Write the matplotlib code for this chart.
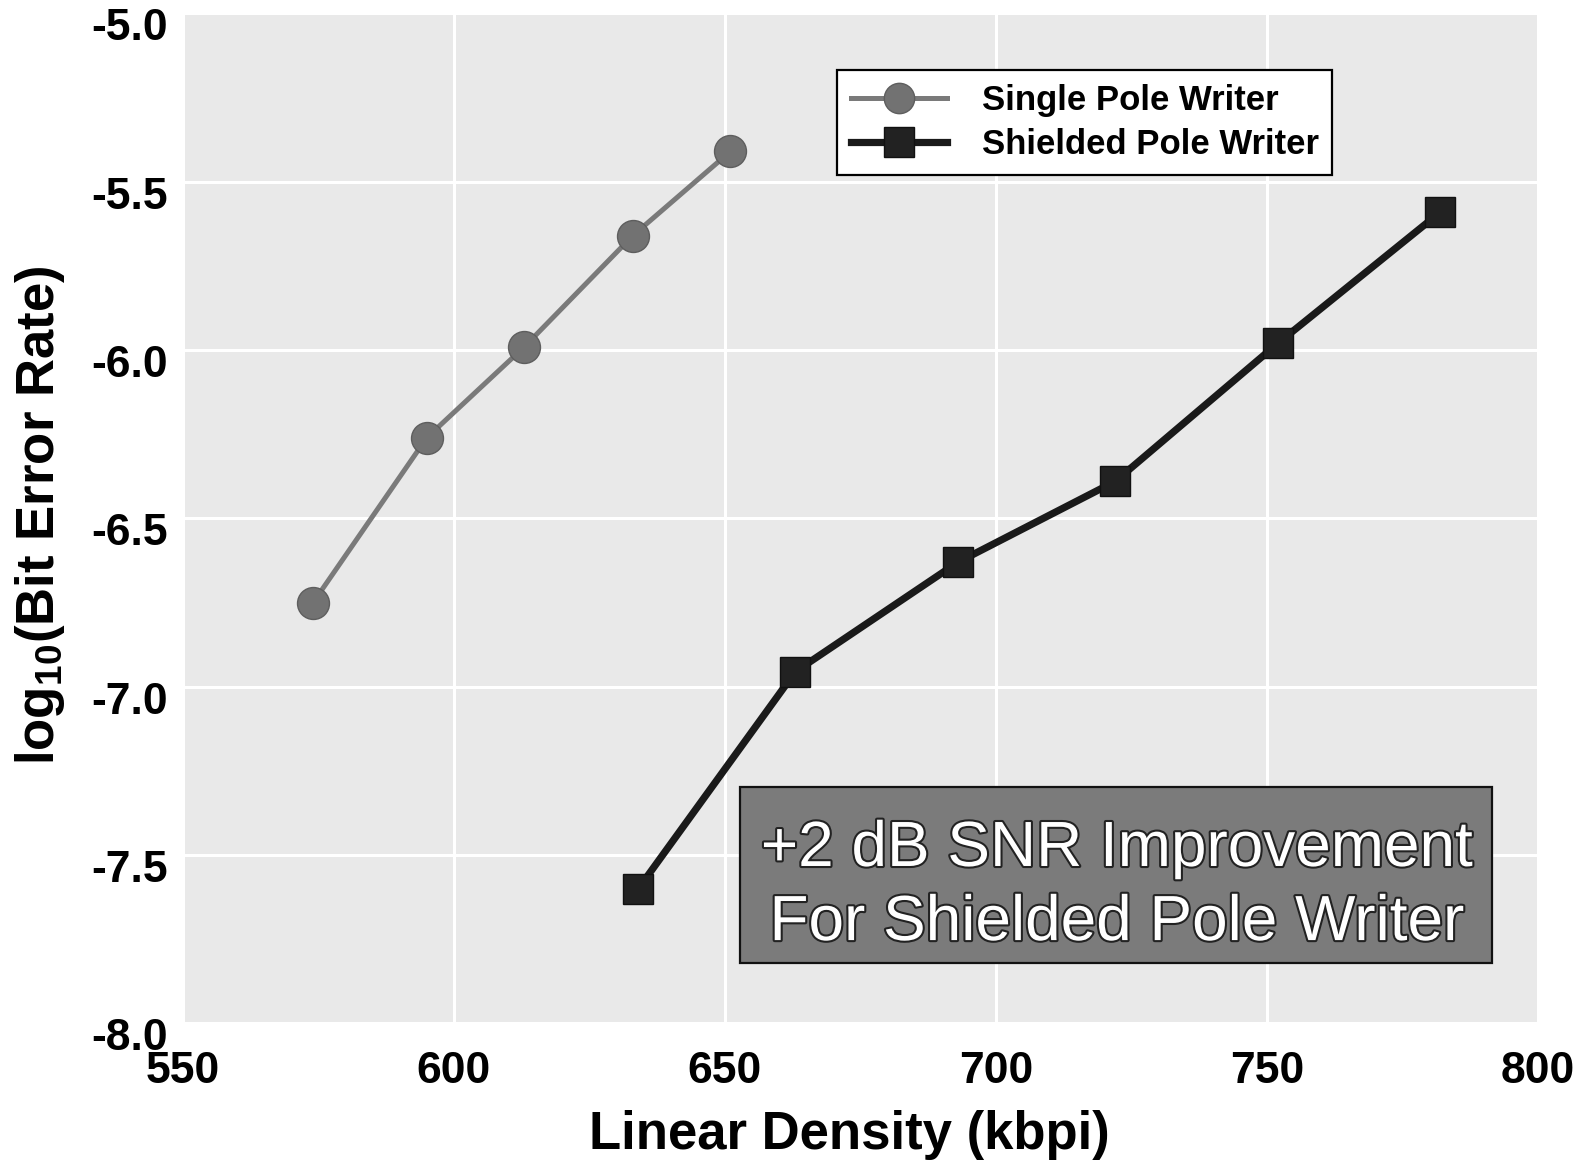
import matplotlib
matplotlib.use('Agg')
import matplotlib.pyplot as plt
import matplotlib.patheffects as pe
from matplotlib.patches import Rectangle
from matplotlib.transforms import ScaledTranslation

single_x = [574, 595, 613, 633, 651]
single_y = [-6.75, -6.26, -5.99, -5.66, -5.41]
shielded_x = [634, 663, 693, 722, 752, 782]
shielded_y = [-7.60, -6.955, -6.63, -6.39, -5.98, -5.59]

series_names = ['Single Pole Writer', 'Shielded Pole Writer']
x_ticks = [550, 600, 650, 700, 750, 800]
y_ticks = [-8.0, -7.5, -7.0, -6.5, -6.0, -5.5, -5.0]
note = '+2 dB SNR Improvement\nFor Shielded Pole Writer'

plt.rcParams['font.family'] = ['Liberation Sans', 'DejaVu Sans']
plt.rcParams['mathtext.fontset'] = 'custom'
plt.rcParams['mathtext.rm'] = 'Liberation Sans:bold'
plt.rcParams['mathtext.bf'] = 'Liberation Sans:bold'
plt.rcParams['mathtext.default'] = 'bf'

W, H = 1576, 1170
fig = plt.figure(figsize=(W / 100, H / 100), dpi=100, facecolor='white')

# plot area in pixels: left 183, right 1538, top 13, bottom 1023
left, right, top, bottom = 183, 1538, 13.4, 1023.4
ax = fig.add_axes([left / W, 1 - bottom / H, (right - left) / W, (bottom - top) / H])
ax.set_facecolor('#e9e9e9')
for s in ax.spines.values():
    s.set_visible(False)

ax.set_xlim(550, 800)
ax.set_ylim(-8.0, -5.0)
ax.set_xticks(x_ticks)
ax.set_yticks(y_ticks)
ax.set_xticklabels([str(v) for v in x_ticks])
ax.set_yticklabels(['%.1f' % v for v in y_ticks])
ax.tick_params(length=0, labelsize=32)
ax.tick_params(axis='x', pad=20)
ax.tick_params(axis='y', pad=11)
for lab in ax.get_xticklabels() + ax.get_yticklabels():
    lab.set_fontweight('bold')
for lab in ax.get_yticklabels():
    lab.set_transform(lab.get_transform() + ScaledTranslation(0, -0.11, fig.dpi_scale_trans))
ax.grid(True, color='white', linewidth=2.2)
ax.set_axisbelow(True)

ax.plot(single_x, single_y, color='#7a7a7a', linewidth=3.6, marker='o',
        markersize=23, markerfacecolor='#727272', markeredgecolor='#5e5e5e',
        markeredgewidth=1, label=series_names[0], zorder=3)
ax.plot(shielded_x, shielded_y, color='#1a1a1a', linewidth=5.2, marker='s',
        markersize=22, markerfacecolor='#222222', markeredgecolor='#111111',
        markeredgewidth=1, label=series_names[1], zorder=3)

leg = ax.legend(loc='upper left', bbox_to_anchor=(0.483, 0.944), borderaxespad=0,
                prop={'weight': 'bold', 'size': 25}, frameon=True, fancybox=False,
                edgecolor='black', framealpha=1, borderpad=0.4, labelspacing=0.32,
                handlelength=2.75, handletextpad=1.0, markerscale=0.95)
leg.get_frame().set_linewidth(1.6)

# annotation box
ax.add_patch(Rectangle((0.411, 0.060), 0.555, 0.174, transform=ax.transAxes,
                       facecolor='#7b7b7b', edgecolor='#111111', linewidth=1.6, zorder=4))
ax.text(0.689, 0.136, note, transform=ax.transAxes, ha='center', va='center',
        fontsize=46, color='white', linespacing=1.3, zorder=5,
        path_effects=[pe.withStroke(linewidth=3, foreground='#222222')])

fig.text(40 / W, 1 - 515 / H, r'log$_{10}$(Bit Error Rate)', rotation=90,
         ha='center', va='center', fontsize=38, fontweight='bold')
fig.text(849 / W, 1 - 1135 / H, 'Linear Density (kbpi)', ha='center', va='center',
         fontsize=38, fontweight='bold')

fig.savefig('out.png', dpi=100, facecolor=fig.get_facecolor())
